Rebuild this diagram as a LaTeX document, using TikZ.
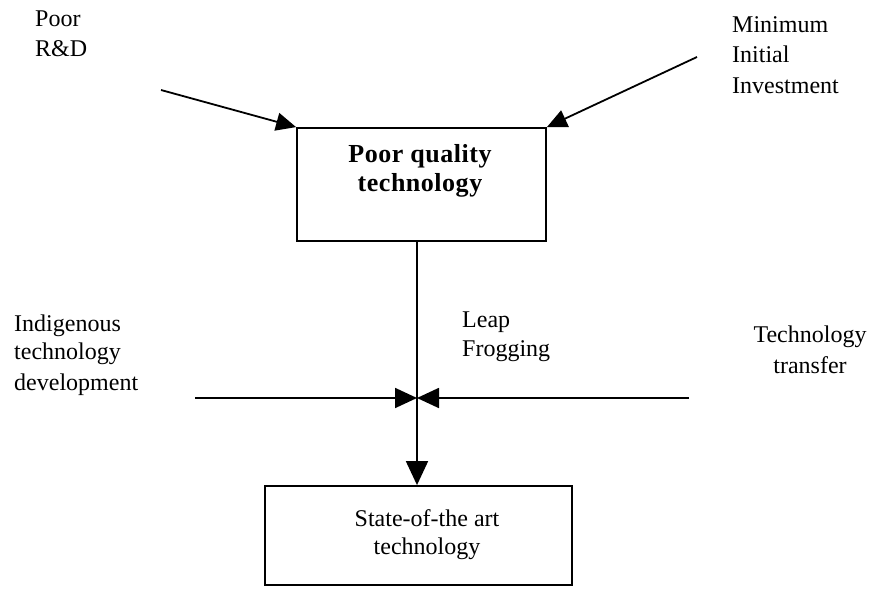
\documentclass[tikz,border=0pt]{standalone}
\usepackage{fontspec}
\setmainfont{Liberation Serif}
\usetikzlibrary{arrows.meta}
\begin{document}
\begin{tikzpicture}[x=1pt,y=-1pt,
  box/.style={draw, line width=1.8pt, inner sep=0pt},
  link/.style={line width=1.8pt},
  diagarrow/.style={link, -{Triangle[length=20pt,width=18pt]}},
  downarrow/.style={link, -{Triangle[length=24pt,width=22pt]}},
  sidearrow/.style={link, -{Triangle[length=22pt,width=20pt]}},
  lbl/.style={inner sep=0pt, font=\fontsize{24}{30}\selectfont},
  boldlbl/.style={inner sep=0pt, font=\fontsize{26}{30}\selectfont\bfseries\addfontfeatures{LetterSpace=2}}]
\useasboundingbox (0,0) rectangle (873,591);

% boxes
\node[box, minimum width=249pt, minimum height=113pt] (top) at (421.5,184.5) {};
\node[box, minimum width=307pt, minimum height=99pt] (bottom) at (418.5,535.5) {};

% box texts
\node[boldlbl, anchor=base] (q1) at (420,163) {Poor quality};
\node[boldlbl, anchor=base] (q2) at (420,192) {technology};
\node[lbl, anchor=base] (st1) at (427,526) {State-of-the art};
\node[lbl, anchor=base] (st2) at (427,554) {technology};

% side labels
\node[lbl, anchor=base west] (rd1) at (35,27) {Poor};
\node[lbl, anchor=base west] (rd2) at (35,57) {R\&D};
\node[lbl, anchor=base west] (inv1) at (732,33) {Minimum};
\node[lbl, anchor=base west] (inv2) at (732,63) {Initial};
\node[lbl, anchor=base west] (inv3) at (732,94) {Investment};
\node[lbl, anchor=base west] (ind1) at (14,331) {Indigenous};
\node[lbl, anchor=base west] (ind2) at (14,359) {technology};
\node[lbl, anchor=base west] (ind3) at (14,390) {development};
\node[lbl, anchor=base west] (lf1) at (462,327) {Leap};
\node[lbl, anchor=base west] (lf2) at (462,356) {Frogging};
\node[lbl, anchor=base] (tt1) at (810,342) {Technology};
\node[lbl, anchor=base] (tt2) at (810,373) {transfer};

% connector end points
\coordinate (rdsrc) at (161,90);
\coordinate (invsrc) at (697,57);
\coordinate (hub) at (417,398);
\coordinate (westend) at (195,398);
\coordinate (eastend) at (689,398);

% connectors
\draw[diagarrow] (rdsrc) -- (top.north west);
\draw[diagarrow] (invsrc) -- (top.north east);
\draw[downarrow] (top.south -| hub) -- (bottom.north -| hub);
\draw[sidearrow] (westend) -- (hub);
\draw[sidearrow] (eastend) -- (hub);
\end{tikzpicture}
\end{document}
